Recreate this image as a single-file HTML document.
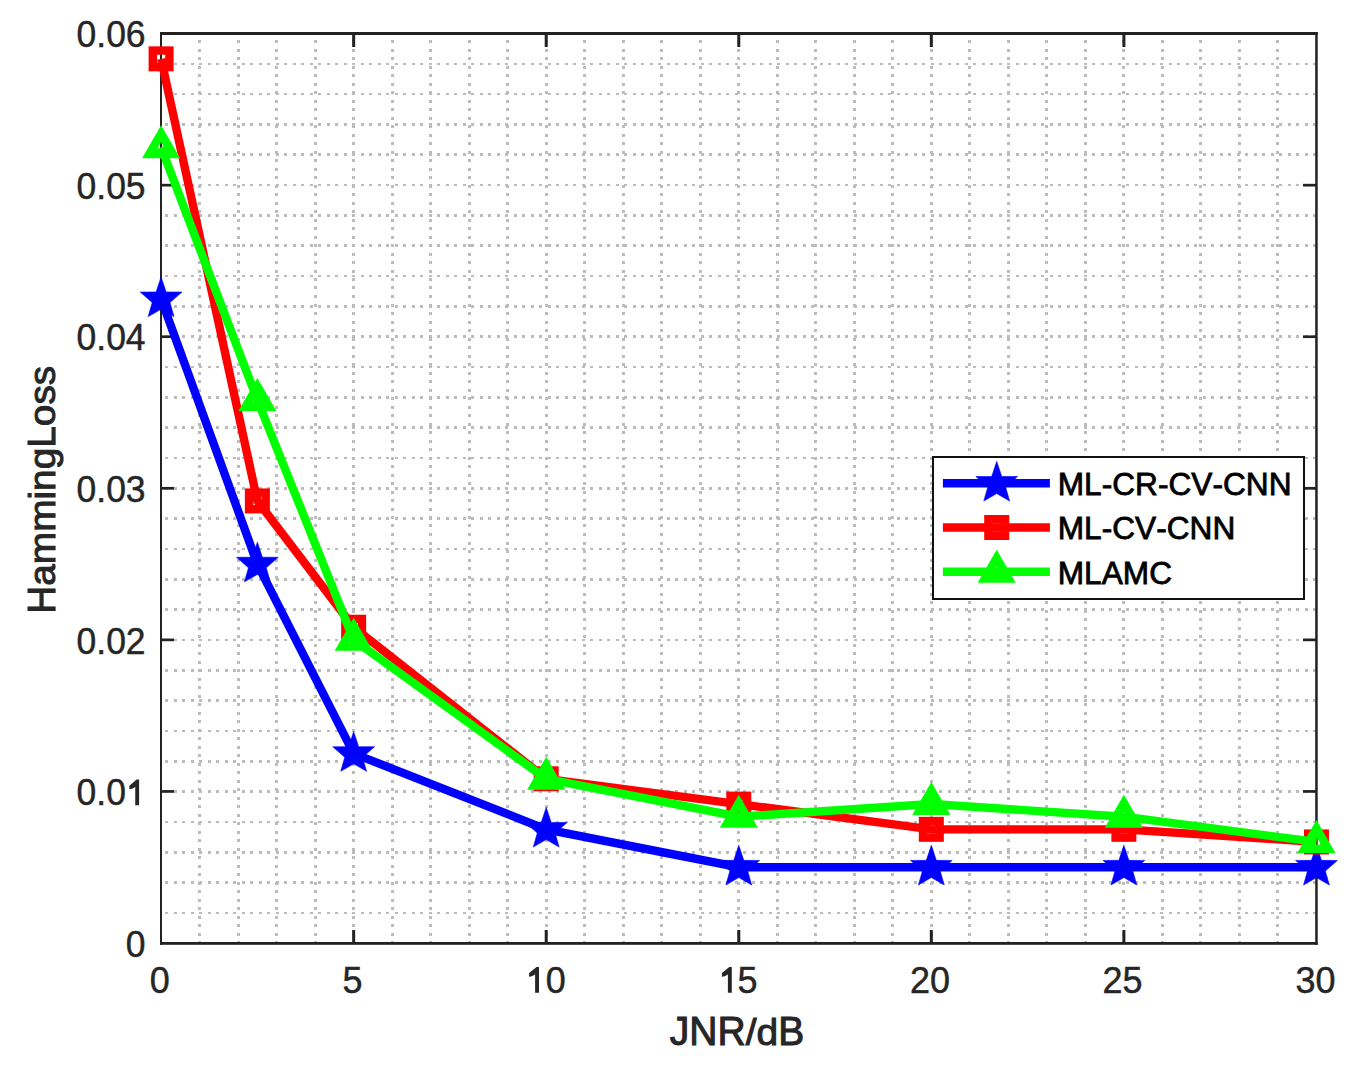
<!DOCTYPE html><html><head><meta charset="utf-8"><style>
html,body{margin:0;padding:0;background:#fff;}
svg{display:block;}
text{font-family:"Liberation Sans",sans-serif;}
</style></head><body>
<svg width="1361" height="1074" viewBox="0 0 1361 1074">
<rect x="0" y="0" width="1361" height="1074" fill="#fff"/>
<path d="M199.5 33.6 V943.0 M238.5 33.6 V943.0 M276.5 33.6 V943.0 M315.5 33.6 V943.0 M353.5 33.6 V943.0 M392.5 33.6 V943.0 M430.5 33.6 V943.0 M469.5 33.6 V943.0 M507.5 33.6 V943.0 M546.5 33.6 V943.0 M584.5 33.6 V943.0 M623.5 33.6 V943.0 M661.5 33.6 V943.0 M700.5 33.6 V943.0 M738.5 33.6 V943.0 M777.5 33.6 V943.0 M815.5 33.6 V943.0 M854.5 33.6 V943.0 M892.5 33.6 V943.0 M931.5 33.6 V943.0 M969.5 33.6 V943.0 M1008.5 33.6 V943.0 M1046.5 33.6 V943.0 M1085.5 33.6 V943.0 M1123.5 33.6 V943.0 M1162.5 33.6 V943.0 M1200.5 33.6 V943.0 M1239.5 33.6 V943.0 M1277.5 33.6 V943.0" stroke="#bcbcbc" stroke-width="3" stroke-dasharray="3 5.5" stroke-dashoffset="2.1" fill="none" shape-rendering="crispEdges"/>
<path d="M161.1 912.97 H1316.45 M161.1 882.64 H1316.45 M161.1 852.32 H1316.45 M161.1 821.99 H1316.45 M161.1 791.66 H1316.45 M161.1 761.33 H1316.45 M161.1 731.00 H1316.45 M161.1 700.68 H1316.45 M161.1 670.35 H1316.45 M161.1 640.02 H1316.45 M161.1 609.69 H1316.45 M161.1 579.36 H1316.45 M161.1 549.04 H1316.45 M161.1 518.71 H1316.45 M161.1 488.38 H1316.45 M161.1 458.05 H1316.45 M161.1 427.72 H1316.45 M161.1 397.40 H1316.45 M161.1 367.07 H1316.45 M161.1 336.74 H1316.45 M161.1 306.41 H1316.45 M161.1 276.08 H1316.45 M161.1 245.76 H1316.45 M161.1 215.43 H1316.45 M161.1 185.10 H1316.45 M161.1 154.77 H1316.45 M161.1 124.44 H1316.45 M161.1 94.12 H1316.45 M161.1 63.79 H1316.45" stroke="#bcbcbc" stroke-width="2.55" stroke-dasharray="3 5.506" stroke-dashoffset="4.606" fill="none" shape-rendering="crispEdges"/>
<rect x="160" y="32" width="1157.7" height="3" fill="#222222"/>
<rect x="160" y="942" width="1157.7" height="2.8" fill="#222222"/>
<rect x="160" y="32" width="2" height="912.8" fill="#222222"/>
<rect x="1315.2" y="32" width="2.5" height="912.8" fill="#222222"/>
<rect x="352.16" y="34" width="3" height="13" fill="#222222"/>
<rect x="352.16" y="930" width="3" height="12" fill="#222222"/>
<rect x="544.72" y="34" width="3" height="13" fill="#222222"/>
<rect x="544.72" y="930" width="3" height="12" fill="#222222"/>
<rect x="737.28" y="34" width="3" height="13" fill="#222222"/>
<rect x="737.28" y="930" width="3" height="12" fill="#222222"/>
<rect x="929.83" y="34" width="3" height="13" fill="#222222"/>
<rect x="929.83" y="930" width="3" height="12" fill="#222222"/>
<rect x="1122.39" y="34" width="3" height="13" fill="#222222"/>
<rect x="1122.39" y="930" width="3" height="12" fill="#222222"/>
<rect x="161" y="790.08" width="13" height="2.7" fill="#222222"/>
<rect x="1303" y="790.08" width="13" height="2.7" fill="#222222"/>
<rect x="161" y="638.52" width="13" height="2.7" fill="#222222"/>
<rect x="1303" y="638.52" width="13" height="2.7" fill="#222222"/>
<rect x="161" y="486.95" width="13" height="2.7" fill="#222222"/>
<rect x="1303" y="486.95" width="13" height="2.7" fill="#222222"/>
<rect x="161" y="335.38" width="13" height="2.7" fill="#222222"/>
<rect x="1303" y="335.38" width="13" height="2.7" fill="#222222"/>
<rect x="161" y="183.82" width="13" height="2.7" fill="#222222"/>
<rect x="1303" y="183.82" width="13" height="2.7" fill="#222222"/>
<g transform="translate(149.80 992.80)" font-size="36" fill="#262626" stroke="#262626" stroke-width="0.45"><text transform="translate(0.00 0) scale(1 1.035)">0</text></g>
<g transform="translate(342.60 992.80)" font-size="36" fill="#262626" stroke="#262626" stroke-width="0.45"><text transform="translate(0.00 0) scale(1 1.035)">5</text></g>
<polygon points="536.50,966.90 539.00,966.90 539.00,992.80 535.10,992.80 535.10,974.40 532.00,976.30 529.10,976.70 529.10,973.10" fill="#262626"/>
<g transform="translate(545.70 992.80)" font-size="36" fill="#262626" stroke="#262626" stroke-width="0.45"><text transform="translate(0.00 0) scale(1 1.035)">0</text></g>
<polygon points="729.30,966.90 731.80,966.90 731.80,992.80 727.90,992.80 727.90,974.40 724.80,976.30 721.90,976.70 721.90,973.10" fill="#262626"/>
<g transform="translate(737.50 992.80)" font-size="36" fill="#262626" stroke="#262626" stroke-width="0.45"><text transform="translate(0.00 0) scale(1 1.035)">5</text></g>
<g transform="translate(910.10 992.80)" font-size="36" fill="#262626" stroke="#262626" stroke-width="0.45"><text transform="translate(0.00 0) scale(1 1.035)">2</text><text transform="translate(20.02 0) scale(1 1.035)">0</text></g>
<g transform="translate(1102.60 992.80)" font-size="36" fill="#262626" stroke="#262626" stroke-width="0.45"><text transform="translate(0.00 0) scale(1 1.035)">2</text><text transform="translate(20.02 0) scale(1 1.035)">5</text></g>
<g transform="translate(1295.40 992.80)" font-size="36" fill="#262626" stroke="#262626" stroke-width="0.45"><text transform="translate(0.00 0) scale(1 1.035)">3</text><text transform="translate(20.02 0) scale(1 1.035)">0</text></g>
<g transform="translate(145.42 956.70)" font-size="35.5" fill="#262626" stroke="#262626" stroke-width="0.45"><text transform="translate(-19.74 0) scale(1 1.035)">0</text></g>
<g transform="translate(76.52 805.13)" font-size="35.5" fill="#262626" stroke="#262626" stroke-width="0.45"><text transform="translate(0.00 0) scale(1 1.035)">0</text><text x="19.74">.</text><text transform="translate(29.61 0) scale(1 1.035)">0</text></g>
<polygon points="136.63,779.59 139.10,779.59 139.10,805.13 135.25,805.13 135.25,786.99 132.20,788.86 129.34,789.26 129.34,785.71" fill="#262626"/>
<g transform="translate(76.52 653.57)" font-size="35.5" fill="#262626" stroke="#262626" stroke-width="0.45"><text transform="translate(0.00 0) scale(1 1.035)">0</text><text x="19.74">.</text><text transform="translate(29.61 0) scale(1 1.035)">0</text><text transform="translate(49.35 0) scale(1 1.035)">2</text></g>
<g transform="translate(76.52 502.00)" font-size="35.5" fill="#262626" stroke="#262626" stroke-width="0.45"><text transform="translate(0.00 0) scale(1 1.035)">0</text><text x="19.74">.</text><text transform="translate(29.61 0) scale(1 1.035)">0</text><text transform="translate(49.35 0) scale(1 1.035)">3</text></g>
<g transform="translate(76.52 350.43)" font-size="35.5" fill="#262626" stroke="#262626" stroke-width="0.45"><text transform="translate(0.00 0) scale(1 1.035)">0</text><text x="19.74">.</text><text transform="translate(29.61 0) scale(1 1.035)">0</text><text transform="translate(49.35 0) scale(1 1.035)">4</text></g>
<g transform="translate(76.52 198.87)" font-size="35.5" fill="#262626" stroke="#262626" stroke-width="0.45"><text transform="translate(0.00 0) scale(1 1.035)">0</text><text x="19.74">.</text><text transform="translate(29.61 0) scale(1 1.035)">0</text><text transform="translate(49.35 0) scale(1 1.035)">5</text></g>
<g transform="translate(76.52 47.30)" font-size="35.5" fill="#262626" stroke="#262626" stroke-width="0.45"><text transform="translate(0.00 0) scale(1 1.035)">0</text><text x="19.74">.</text><text transform="translate(29.61 0) scale(1 1.035)">0</text><text transform="translate(49.35 0) scale(1 1.035)">6</text></g>
<g transform="translate(737.00 1045.00)" font-size="39" fill="#262626" stroke="#262626" stroke-width="1.0"><text transform="translate(-67.18 0) scale(1 1.02)">J</text><text transform="translate(-47.68 0) scale(1 1.02)">N</text><text transform="translate(-19.52 0) scale(1 1.02)">R</text><text transform="translate(8.65 0) scale(1 0.97)">/</text><text transform="translate(19.48 0) scale(1 0.97)">d</text><text transform="translate(41.17 0) scale(1 1.02)">B</text></g>
<g transform="translate(54.90 489.80) rotate(-90)" font-size="38.8" fill="#262626" stroke="#262626" stroke-width="1.0"><text transform="translate(-123.99 0) scale(1 1.02)">H</text><text transform="translate(-95.97 0) scale(1 0.95)">a</text><text transform="translate(-74.39 0) scale(1 0.95)">m</text><text transform="translate(-42.07 0) scale(1 0.95)">m</text><text transform="translate(-9.75 0) scale(1 0.95)">i</text><text transform="translate(-1.13 0) scale(1 0.95)">n</text><text transform="translate(20.45 0) scale(1 0.95)">g</text><text transform="translate(42.03 0) scale(1 1.02)">L</text><text transform="translate(63.61 0) scale(1 0.95)">o</text><text transform="translate(85.19 0) scale(1 0.95)">s</text><text transform="translate(104.59 0) scale(1 0.95)">s</text></g>
<polyline points="161.10,298.84 257.38,564.08 353.66,753.54 546.22,829.33 738.78,867.22 931.33,867.22 1123.89,867.22 1316.45,867.22" fill="none" stroke="#0000ff" stroke-width="8.4" stroke-linejoin="miter" stroke-miterlimit="10"/>
<polygon points="161.10,276.89 166.10,291.99 181.98,292.06 170.00,302.54 174.00,316.60 161.10,309.14 148.20,316.60 152.20,302.54 140.22,292.06 156.10,291.99" fill="#0000ff" stroke="#0000ff" stroke-width="0.6" stroke-linejoin="round"/>
<polygon points="257.38,542.13 262.38,557.23 278.25,557.30 266.28,567.78 270.28,581.84 257.38,574.38 244.48,581.84 248.48,567.78 236.50,557.30 252.38,557.23" fill="#0000ff" stroke="#0000ff" stroke-width="0.6" stroke-linejoin="round"/>
<polygon points="353.66,731.59 358.66,746.69 374.53,746.76 362.56,757.24 366.56,771.30 353.66,763.84 340.76,771.30 344.76,757.24 332.78,746.76 348.66,746.69" fill="#0000ff" stroke="#0000ff" stroke-width="0.6" stroke-linejoin="round"/>
<polygon points="546.22,807.38 551.22,822.48 567.09,822.54 555.12,833.03 559.12,847.08 546.22,839.62 533.31,847.08 537.32,833.03 525.34,822.54 541.22,822.48" fill="#0000ff" stroke="#0000ff" stroke-width="0.6" stroke-linejoin="round"/>
<polygon points="738.78,845.27 743.78,860.37 759.65,860.43 747.68,870.92 751.68,884.97 738.78,877.52 725.87,884.97 729.88,870.92 717.90,860.43 733.78,860.37" fill="#0000ff" stroke="#0000ff" stroke-width="0.6" stroke-linejoin="round"/>
<polygon points="931.33,845.27 936.33,860.37 952.21,860.43 940.23,870.92 944.24,884.97 931.33,877.52 918.43,884.97 922.43,870.92 910.46,860.43 926.33,860.37" fill="#0000ff" stroke="#0000ff" stroke-width="0.6" stroke-linejoin="round"/>
<polygon points="1123.89,845.27 1128.89,860.37 1144.77,860.43 1132.79,870.92 1136.79,884.97 1123.89,877.52 1110.99,884.97 1114.99,870.92 1103.02,860.43 1118.89,860.37" fill="#0000ff" stroke="#0000ff" stroke-width="0.6" stroke-linejoin="round"/>
<polygon points="1316.45,845.27 1321.45,860.37 1337.33,860.43 1325.35,870.92 1329.35,884.97 1316.45,877.52 1303.55,884.97 1307.55,870.92 1295.57,860.43 1311.45,860.37" fill="#0000ff" stroke="#0000ff" stroke-width="0.6" stroke-linejoin="round"/>
<polyline points="161.10,58.86 257.38,500.93 353.66,627.24 546.22,778.80 738.78,804.06 931.33,829.33 1123.89,829.33 1316.45,841.96" fill="none" stroke="#ff0000" stroke-width="8.4" stroke-linejoin="miter" stroke-miterlimit="10"/>
<rect x="152.80" y="50.56" width="16.6" height="16.6" fill="none" stroke="#ff0000" stroke-width="8.4"/>
<rect x="249.08" y="492.63" width="16.6" height="16.6" fill="none" stroke="#ff0000" stroke-width="8.4"/>
<rect x="345.36" y="618.94" width="16.6" height="16.6" fill="none" stroke="#ff0000" stroke-width="8.4"/>
<rect x="537.92" y="770.50" width="16.6" height="16.6" fill="none" stroke="#ff0000" stroke-width="8.4"/>
<rect x="730.48" y="795.76" width="16.6" height="16.6" fill="none" stroke="#ff0000" stroke-width="8.4"/>
<rect x="923.03" y="821.03" width="16.6" height="16.6" fill="none" stroke="#ff0000" stroke-width="8.4"/>
<rect x="1115.59" y="821.03" width="16.6" height="16.6" fill="none" stroke="#ff0000" stroke-width="8.4"/>
<rect x="1308.15" y="833.66" width="16.6" height="16.6" fill="none" stroke="#ff0000" stroke-width="8.4"/>
<polyline points="161.10,147.27 257.38,399.89 353.66,639.87 546.22,778.80 738.78,816.69 931.33,804.06 1123.89,816.69 1316.45,841.96" fill="none" stroke="#00ff00" stroke-width="8.4" stroke-linejoin="miter" stroke-miterlimit="10"/>
<polygon points="161.10,133.67 149.32,154.07 172.88,154.07" fill="none" stroke="#00ff00" stroke-width="8.4" stroke-miterlimit="10"/>
<polygon points="257.38,386.29 245.60,406.69 269.16,406.69" fill="none" stroke="#00ff00" stroke-width="8.4" stroke-miterlimit="10"/>
<polygon points="353.66,626.27 341.88,646.67 365.44,646.67" fill="none" stroke="#00ff00" stroke-width="8.4" stroke-miterlimit="10"/>
<polygon points="546.22,765.20 534.44,785.60 557.99,785.60" fill="none" stroke="#00ff00" stroke-width="8.4" stroke-miterlimit="10"/>
<polygon points="738.78,803.09 727.00,823.49 750.55,823.49" fill="none" stroke="#00ff00" stroke-width="8.4" stroke-miterlimit="10"/>
<polygon points="931.33,790.46 919.56,810.86 943.11,810.86" fill="none" stroke="#00ff00" stroke-width="8.4" stroke-miterlimit="10"/>
<polygon points="1123.89,803.09 1112.11,823.49 1135.67,823.49" fill="none" stroke="#00ff00" stroke-width="8.4" stroke-miterlimit="10"/>
<polygon points="1316.45,828.36 1304.67,848.76 1328.23,848.76" fill="none" stroke="#00ff00" stroke-width="8.4" stroke-miterlimit="10"/>
<rect x="933" y="457" width="371" height="142" fill="#fff" stroke="#111" stroke-width="2"/>
<line x1="942.9" y1="483.3" x2="1049.9" y2="483.3" stroke="#0000ff" stroke-width="8.4"/>
<polygon points="996.70,461.35 1001.70,476.45 1017.58,476.52 1005.60,487.00 1009.60,501.06 996.70,493.60 983.80,501.06 987.80,487.00 975.82,476.52 991.70,476.45" fill="#0000ff" stroke="#0000ff" stroke-width="0.6" stroke-linejoin="round"/>
<line x1="942.9" y1="527.5" x2="1049.9" y2="527.5" stroke="#ff0000" stroke-width="8.4"/>
<rect x="988.40" y="519.20" width="16.6" height="16.6" fill="none" stroke="#ff0000" stroke-width="8.4"/>
<line x1="942.9" y1="571.7" x2="1049.9" y2="571.7" stroke="#00ff00" stroke-width="8.4"/>
<polygon points="996.70,558.10 984.92,578.50 1008.48,578.50" fill="none" stroke="#00ff00" stroke-width="8.4" stroke-miterlimit="10"/>
<g transform="translate(1057.70 495.20)" font-size="31.65" fill="#000" stroke="#000" stroke-width="0.8"><text transform="translate(0.00 0) scale(1 0.975)">M</text><text transform="translate(26.36 0) scale(1 0.975)">L</text><text transform="translate(43.97 0) scale(1 0.975)">-</text><text transform="translate(54.51 0) scale(1 0.975)">C</text><text transform="translate(77.36 0) scale(1 0.975)">R</text><text transform="translate(100.22 0) scale(1 0.975)">-</text><text transform="translate(110.76 0) scale(1 0.975)">C</text><text transform="translate(133.62 0) scale(1 0.975)">V</text><text transform="translate(154.73 0) scale(1 0.975)">-</text><text transform="translate(165.27 0) scale(1 0.975)">C</text><text transform="translate(188.12 0) scale(1 0.975)">N</text><text transform="translate(210.98 0) scale(1 0.975)">N</text></g>
<g transform="translate(1057.70 539.40)" font-size="31.65" fill="#000" stroke="#000" stroke-width="0.8"><text transform="translate(0.00 0) scale(1 0.975)">M</text><text transform="translate(26.36 0) scale(1 0.975)">L</text><text transform="translate(43.97 0) scale(1 0.975)">-</text><text transform="translate(54.51 0) scale(1 0.975)">C</text><text transform="translate(77.36 0) scale(1 0.975)">V</text><text transform="translate(98.47 0) scale(1 0.975)">-</text><text transform="translate(109.01 0) scale(1 0.975)">C</text><text transform="translate(131.87 0) scale(1 0.975)">N</text><text transform="translate(154.73 0) scale(1 0.975)">N</text></g>
<g transform="translate(1057.70 583.60)" font-size="31.65" fill="#000" stroke="#000" stroke-width="0.8"><text transform="translate(0.00 0) scale(1 0.975)">M</text><text transform="translate(26.36 0) scale(1 0.975)">L</text><text transform="translate(43.97 0) scale(1 0.975)">A</text><text transform="translate(65.08 0) scale(1 0.975)">M</text><text transform="translate(91.44 0) scale(1 0.975)">C</text></g>
</svg></body></html>
